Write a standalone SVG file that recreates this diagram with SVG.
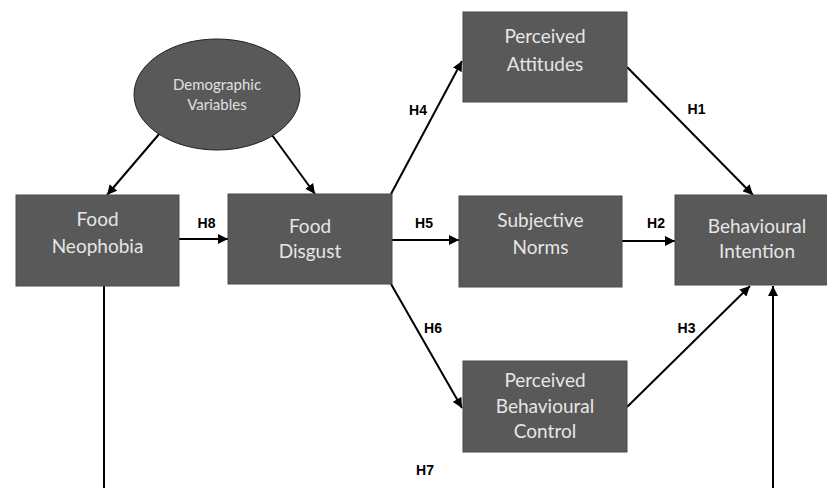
<svg xmlns="http://www.w3.org/2000/svg" width="827" height="488" viewBox="0 0 827 488">
<style>
.box{fill:#595959;stroke:#4a4a4a;stroke-width:1}
.nt{font-family:Lato,"Open Sans","Liberation Sans",sans-serif;font-size:19px;fill:#e6e6e6;text-anchor:middle}
.et{font-family:Lato,"Open Sans","Liberation Sans",sans-serif;font-size:15px;fill:#e0e0e0;text-anchor:middle}
.lb{font-family:"Liberation Sans",Arial,sans-serif;font-size:14px;font-weight:bold;fill:#000;text-anchor:middle}
.cn{stroke:#000;stroke-width:2;fill:none}
</style>
<defs>
<marker id="ah" viewBox="0 0 10 10" refX="10" refY="5" markerWidth="5" markerHeight="5" orient="auto" markerUnits="strokeWidth">
<path d="M0,0 L10,5 L0,10 z" fill="#000"/>
</marker>
</defs>
<rect width="827" height="488" fill="#fff"/>
<g id="connectors">
<line class="cn" x1="160" y1="133" x2="107" y2="195" marker-end="url(#ah)"/>
<line class="cn" x1="272" y1="135" x2="315" y2="194" marker-end="url(#ah)"/>
<line class="cn" x1="179" y1="239" x2="228" y2="239" marker-end="url(#ah)"/>
<line class="cn" x1="391" y1="194" x2="462" y2="61" marker-end="url(#ah)"/>
<line class="cn" x1="392" y1="240" x2="459" y2="240" marker-end="url(#ah)"/>
<line class="cn" x1="391" y1="284" x2="462" y2="408" marker-end="url(#ah)"/>
<line class="cn" x1="627" y1="67" x2="753" y2="195" marker-end="url(#ah)"/>
<line class="cn" x1="622" y1="241" x2="675" y2="241" marker-end="url(#ah)"/>
<line class="cn" x1="627" y1="407" x2="750" y2="286" marker-end="url(#ah)"/>
<line class="cn" x1="104" y1="286" x2="104" y2="488"/>
<line class="cn" x1="773" y1="488" x2="773" y2="286" marker-end="url(#ah)"/>
</g>
<g id="labels">
<text class="lb" x="696.5" y="114">H1</text>
<text class="lb" x="656" y="228">H2</text>
<text class="lb" x="686.5" y="333">H3</text>
<text class="lb" x="418" y="115">H4</text>
<text class="lb" x="424" y="228">H5</text>
<text class="lb" x="433" y="333">H6</text>
<text class="lb" x="425" y="475">H7</text>
<text class="lb" x="206.5" y="228">H8</text>
</g>
<g id="demographic">
<ellipse cx="217" cy="94.5" rx="83" ry="55.5" fill="#595959" stroke="#222" stroke-width="1"/>
<text class="et" x="217" y="90">Demographic</text>
<text class="et" x="217" y="110">Variables</text>
</g>
<g id="food-neophobia">
<rect class="box" x="16" y="195" width="163" height="91"/>
<text class="nt" x="97.5" y="226">Food</text>
<text class="nt" x="97.5" y="253">Neophobia</text>
</g>
<g id="food-disgust">
<rect class="box" x="228" y="194" width="164" height="90"/>
<text class="nt" x="310" y="233">Food</text>
<text class="nt" x="310" y="258">Disgust</text>
</g>
<g id="perceived-attitudes">
<rect class="box" x="463" y="12" width="164" height="90"/>
<text class="nt" x="545" y="43">Perceived</text>
<text class="nt" x="545" y="71">Attitudes</text>
</g>
<g id="subjective-norms">
<rect class="box" x="459" y="196" width="163" height="91"/>
<text class="nt" x="540.5" y="227">Subjective</text>
<text class="nt" x="540.5" y="254">Norms</text>
</g>
<g id="perceived-behavioural-control">
<rect class="box" x="463" y="361" width="164" height="91"/>
<text class="nt" x="545" y="387">Perceived</text>
<text class="nt" x="545" y="413">Behavioural</text>
<text class="nt" x="545" y="438">Control</text>
</g>
<g id="behavioural-intention">
<rect class="box" x="675" y="195" width="164" height="90"/>
<text class="nt" x="757" y="233">Behavioural</text>
<text class="nt" x="757" y="258">Intention</text>
</g>
</svg>
